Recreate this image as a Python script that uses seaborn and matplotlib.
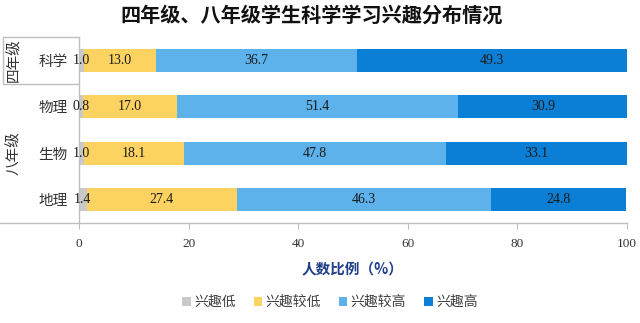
import matplotlib
matplotlib.use("Agg")
import matplotlib.pyplot as plt
import seaborn as sns
import pandas as pd
import numpy as np
from matplotlib.patches import Patch

# Interest distribution (% of students) by subject
subjects = ["科学", "物理", "生物", "地理"]
levels = ["兴趣低", "兴趣较低", "兴趣较高", "兴趣高"]
low = [1.0, 0.8, 1.0, 1.4]
mid_low = [13.0, 17.0, 18.1, 27.4]
mid_high = [36.7, 51.4, 47.8, 46.3]
high = [49.3, 30.9, 33.1, 24.8]
groups = ["四年级", "八年级"]
x_ticks = [0, 20, 40, 60, 80, 100]

colors = ["#c9c9c9", "#fcd360", "#5db2ec", "#0a7fd5"]
serif = ["Liberation Serif", "DejaVu Serif"]

sns.set_theme(style="white")
plt.rcParams["font.family"] = ["Noto Sans CJK SC", "DejaVu Sans"]

fig = plt.figure(figsize=(6.4, 3.23), dpi=100)
ax = fig.add_axes([79 / 640, 1 - 223 / 323, 548 / 640, 186 / 323])

series = np.array([low, mid_low, mid_high, high])
cum = np.cumsum(series, axis=0)

# stacked bars: draw cumulative totals from the outermost layer inward
for i in range(len(levels) - 1, -1, -1):
    df = pd.DataFrame({"subject": subjects, "value": cum[i]})
    sns.barplot(data=df, x="value", y="subject", orient="h", order=subjects,
                color=colors[i], width=0.5, saturation=1, linewidth=0, ax=ax)

# segment value labels
for i in range(len(levels)):
    for j in range(len(subjects)):
        v = series[i, j]
        cx = cum[i, j] - v / 2
        ax.text(cx, j, f"{v:.1f}", ha="center", va="center", fontsize=10,
                family=serif, color="#1a1a1a")

ax.set_xlim(0, 100)
ax.set_ylim(3.5, -0.5)
ax.set_xticks(x_ticks)
ax.set_xticklabels([str(t) for t in x_ticks], family=serif, fontsize=9.5, color="#333333")
ax.tick_params(axis="x", bottom=True, length=4, width=0.8, color="#bfbfbf", pad=7)
ax.tick_params(axis="y", left=False, length=0, pad=8, labelsize=10.5, labelcolor="#333333")
ax.set_ylabel("")
ax.set_xlabel("人数比例（%）", fontsize=10.5, fontweight="bold", color="#203f8a", labelpad=8)

for s in ["top", "right"]:
    ax.spines[s].set_visible(False)
for s in ["left", "bottom"]:
    ax.spines[s].set_color("#bfbfbf")
    ax.spines[s].set_linewidth(1)

# grade grouping frame on the category axis
tr = ax.get_yaxis_transform()
xl = (3 - 79) / 548
line_kw = dict(color="#bfbfbf", lw=1, transform=tr, clip_on=False)
ax.plot([xl, 0], [-0.5, -0.5], **line_kw)
ax.plot([xl, 0], [0.5, 0.5], **line_kw)
ax.plot([xl, xl], [-0.5, 0.5], **line_kw)
ax.plot([(0 - 79) / 548, 0], [3.5, 3.5], **line_kw)

gx = (14 - 79) / 548
ax.text(gx, 0, groups[0], rotation=90, ha="center", va="center", fontsize=10.5,
        color="#333333", transform=tr)
ax.text(gx, 2, groups[1], rotation=90, ha="center", va="center", fontsize=10.5,
        color="#333333", transform=tr)

fig.text(312 / 640, 1 - 15 / 323, "四年级、八年级学生科学学习兴趣分布情况",
         ha="center", va="center", fontsize=14.5, fontweight="bold", color="#111111")

handles = [Patch(facecolor=c, edgecolor="none", label=l) for c, l in zip(colors, levels)]
leg = fig.legend(handles=handles, loc="center", bbox_to_anchor=(330 / 640, 1 - 302 / 323),
                 ncol=4, frameon=False, fontsize=10, handlelength=0.6, handleheight=0.6,
                 handletextpad=0.25, columnspacing=1.3)
for t in leg.get_texts():
    t.set_color("#404040")

fig.savefig("out.png", dpi=100)
